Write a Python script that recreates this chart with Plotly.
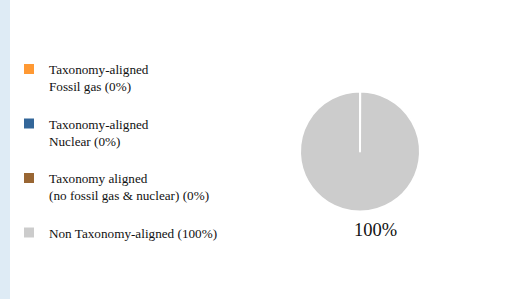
import plotly.graph_objects as go

categories = [
    "Taxonomy-aligned<br>Fossil gas (0%)",
    "Taxonomy-aligned<br>Nuclear (0%)",
    "Taxonomy aligned<br>(no fossil gas & nuclear) (0%)",
    "Non Taxonomy-aligned (100%)",
]
values = [0, 0, 0, 100]
colors = ["#FF9933", "#336699", "#996633", "#CCCCCC"]

W, H = 518, 299
FONT = "Liberation Serif"

# pad two-line labels with a blank line for spacing
legend_labels = [c + "<br> " for c in categories[:3]] + [categories[3]]
# zero slices drawn as hairline wedges so their white border shows
draw_values = [v if v > 0 else 0.02 for v in values]

fig = go.Figure(go.Pie(
    labels=legend_labels,
    values=draw_values,
    marker=dict(colors=colors, line=dict(color="white", width=2)),
    sort=False,
    direction="clockwise",
    rotation=0,
    textinfo="none",
    hoverinfo="skip",
    domain=dict(x=[300 / W, 420 / W], y=[1 - 211.5 / H, 1 - 91.5 / H]),
))

fig.add_shape(type="rect", xref="paper", yref="paper",
              x0=0, x1=10 / W, y0=0, y1=1,
              fillcolor="#DEEBF5", line=dict(width=0), layer="below")

fig.add_annotation(text=f"{values[3]}%", xref="paper", yref="paper",
                   x=375 / W, y=1 - 230 / H, xanchor="center", yanchor="middle",
                   showarrow=False,
                   font=dict(family=FONT, size=18.5, color="#111111"))

fig.update_layout(
    width=W, height=H,
    margin=dict(l=0, r=0, t=0, b=0),
    paper_bgcolor="white", plot_bgcolor="white",
    font=dict(family=FONT, size=13.2, color="#111111"),
    showlegend=True,
    legend=dict(x=9 / W, y=1 - 54 / H, xanchor="left", yanchor="top",
                valign="top", itemwidth=30, bgcolor="rgba(0,0,0,0)",
                font=dict(family=FONT, size=13.2, color="#111111"),
                traceorder="normal"),
)

fig.write_html("out.html", config={"displayModeBar": False},
               post_script="document.body.style.margin='0px';")
